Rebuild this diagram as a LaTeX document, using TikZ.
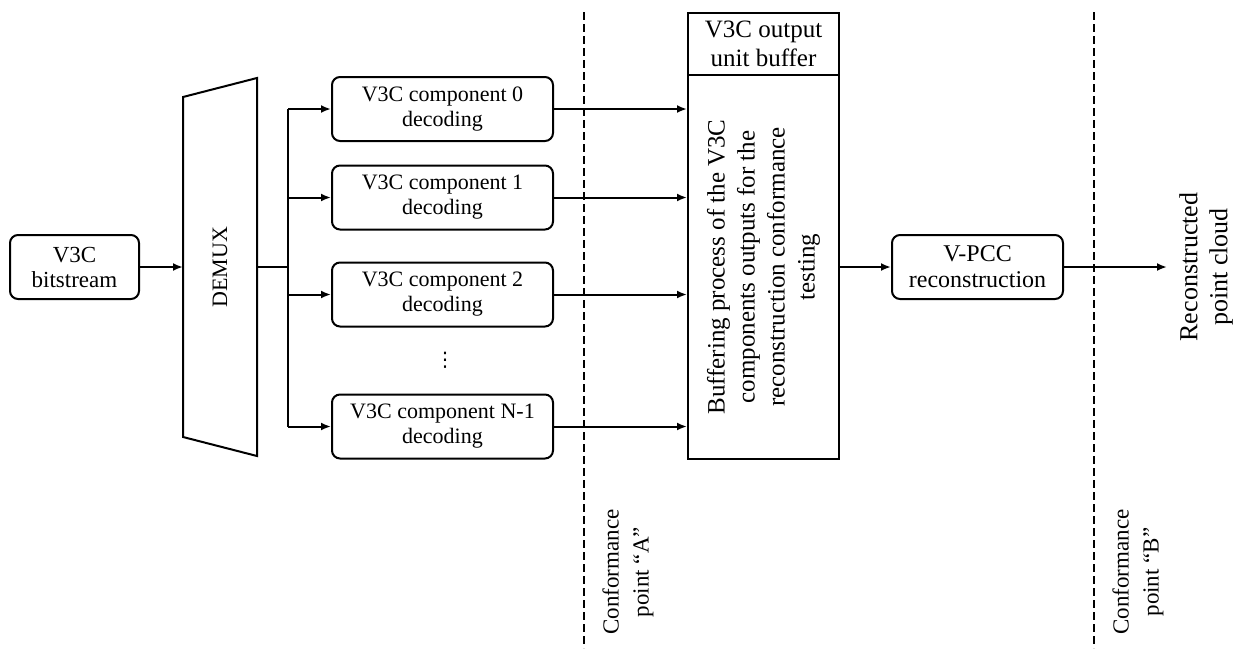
\documentclass[tikz,border=0pt]{standalone}
\usepackage{fontspec}
\setmainfont{Liberation Serif}
\newfontfamily\dotsfont{DejaVu Sans}
\usetikzlibrary{arrows.meta}

\tikzset{
  blk/.style = {draw, line width=1pt, rounded corners=4pt, align=center},
  comp/.style = {blk, minimum width=110.5pt, minimum height=32pt, font=\fontsize{11}{12.5}\selectfont},
  sqbox/.style = {draw, line width=1pt, minimum width=75.5pt, align=center},
  conn/.style = {line width=1pt, -{Latex[length=5pt,width=4pt]}},
  cpline/.style = {line width=0.8pt, dash pattern=on 4pt off 2pt},
  vlabel/.style = {rotate=90, align=center, font=\fontsize{11.5}{15}\selectfont},
}

\begin{document}
\begin{tikzpicture}[x=0.5pt, y=-0.5pt]
  \useasboundingbox (0,0) rectangle (1241,648);

  % input
  \node[blk, minimum width=64.5pt, minimum height=32pt, font=\fontsize{11.5}{12.5}\selectfont] (bits) at (74.5,267) {V3C\\bitstream};

  % demux
  \coordinate (dtl) at (183,97);
  \coordinate (dtr) at (257,78);
  \coordinate (dbr) at (257,456);
  \coordinate (dbl) at (183,437);
  \draw[line width=1pt] (dtl) -- (dtr) -- (dbr) -- (dbl) -- cycle;
  \node[rotate=90, font=\fontsize{11}{13}\selectfont] (demux) at (220,267) {DEMUX};
  \coordinate (din) at (183,267);
  \coordinate (dout) at (257,267);
  \coordinate (bus) at (288,267);
  \draw[conn] (bits) -- (din);
  \draw[line width=1.3pt] (dout) -- (bus);

  % component decoders
  \node[comp] (c0) at (442.5,109) {V3C component 0\\decoding};
  \node[comp] (c1) at (442.5,197.5) {V3C component 1\\decoding};
  \node[comp] (c2) at (442.5,294.5) {V3C component 2\\decoding};
  \node[comp] (cn) at (442.5,426.5) {V3C component N-1\\decoding};
  \node[font=\dotsfont\fontsize{10}{12}\selectfont] (dots) at (445,360) {⋮};
  \draw[line width=1pt] (bus |- c0) -- (bus |- cn);
  \draw[conn] (bus |- c0) -- (c0.west);
  \draw[conn] (bus |- c1) -- (c1.west);
  \draw[conn] (bus |- c2) -- (c2.west);
  \draw[conn] (bus |- cn) -- (cn.west);

  % output unit buffer
  \node[sqbox, minimum height=31pt, font=\fontsize{12.5}{14.5}\selectfont] (hdr) at (763.5,44) {V3C output\\unit buffer};
  \node[sqbox, minimum height=192pt] (buf) at (763.5,267) {};
  \node[rotate=90, align=center, font=\fontsize{12.5}{15}\selectfont] (buftxt) at (buf.center) {Buffering process of the V3C\\components outputs for the\\reconstruction conformance\\testing};
  \draw[conn] (c0.east) -- (c0 -| buf.west);
  \draw[conn] (c1.east) -- (c1 -| buf.west);
  \draw[conn] (c2.east) -- (c2 -| buf.west);
  \draw[conn] (cn.east) -- (cn -| buf.west);

  % reconstruction
  \node[blk, minimum width=85.5pt, minimum height=32pt, font=\fontsize{12}{13}\selectfont] (vpcc) at (977.5,267) {V-PCC\\reconstruction};
  \draw[conn] (buf) -- (vpcc);
  \coordinate (out) at (1167,267);
  \draw[conn] (vpcc) -- (out);
  \node[rotate=90, align=center, font=\fontsize{13}{15}\selectfont] (recon) at (1206,267) {Reconstructed\\point cloud};

  % conformance points
  \coordinate (cpAt) at (584,12);
  \coordinate (cpAb) at (584,648);
  \coordinate (cpBt) at (1094,12);
  \coordinate (cpBb) at (1094,648);
  \draw[cpline] (cpAt) -- (cpAb);
  \draw[cpline] (cpBt) -- (cpBb);
  \node[vlabel] (cpA) at (628,572) {Conformance\\point “A”};
  \node[vlabel] (cpB) at (1138,572) {Conformance\\point “B”};
\end{tikzpicture}
\end{document}
